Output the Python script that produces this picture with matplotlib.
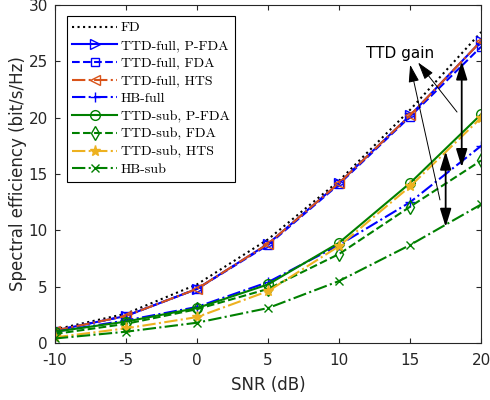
import matplotlib
matplotlib.use("Agg")
import matplotlib.pyplot as plt

plt.rcParams["axes.unicode_minus"] = False

snr = [-10, -5, 0, 5, 10, 15, 20]

fd = [1.2, 2.6, 5.2, 9.2, 14.4, 20.7, 27.6]
ttd_full_pfda = [1.1, 2.4, 4.8, 8.8, 14.2, 20.2, 26.8]
ttd_full_fda = [1.1, 2.4, 4.8, 8.7, 14.1, 20.1, 26.3]
ttd_full_hts = [1.1, 2.4, 4.8, 8.8, 14.2, 20.2, 26.8]
hb_full = [1.0, 2.0, 3.2, 5.4, 8.7, 12.5, 17.5]
ttd_sub_pfda = [1.0, 1.9, 3.1, 5.2, 8.9, 14.2, 20.3]
ttd_sub_fda = [0.8, 1.7, 3.0, 4.8, 7.9, 12.1, 16.2]
ttd_sub_hts = [0.5, 1.3, 2.3, 4.6, 8.6, 13.9, 20.0]
hb_sub = [0.4, 1.0, 1.8, 3.1, 5.5, 8.7, 12.3]

labels = ["FD", "TTD-full, P-FDA", "TTD-full, FDA", "TTD-full, HTS", "HB-full",
          "TTD-sub, P-FDA", "TTD-sub, FDA", "TTD-sub, HTS", "HB-sub"]

blue = (0, 0, 1)
orange = (0.85, 0.325, 0.098)
green = (0, 0.5, 0)
yellow = (0.929, 0.694, 0.125)

fig = plt.figure(figsize=(4.9, 4.0), dpi=100)
ax = fig.add_axes([0.112, 0.1425, 0.870, 0.845])

lw = 1.5
ax.plot(snr, fd, ":", color="black", lw=lw, label=labels[0])
ax.plot(snr, ttd_full_pfda, "-", color=blue, lw=lw, marker=">", ms=7, mfc="none", label=labels[1])
ax.plot(snr, ttd_full_fda, "--", color=blue, lw=lw, marker="s", ms=6, mfc="none", label=labels[2])
ax.plot(snr, ttd_full_hts, "-.", color=orange, lw=lw, marker="<", ms=7, mfc="none", label=labels[3])
ax.plot(snr, hb_full, "-.", color=blue, lw=lw, marker="+", ms=7, label=labels[4])
ax.plot(snr, ttd_sub_pfda, "-", color=green, lw=lw, marker="o", ms=7, mfc="none", label=labels[5])
ax.plot(snr, ttd_sub_fda, "--", color=green, lw=lw, marker="d", ms=7, mfc="none", label=labels[6])
ax.plot(snr, ttd_sub_hts, "-.", color=yellow, lw=lw, marker="*", ms=8, label=labels[7])
ax.plot(snr, hb_sub, "-.", color=green, lw=lw, marker="x", ms=6, label=labels[8])

# TTD gain annotations
arrow_big = dict(arrowstyle="<|-|>,head_length=0.55,head_width=0.17", color="black",
                 lw=1.3, mutation_scale=20, shrinkA=0, shrinkB=0)
ax.annotate("", xy=(18.63, 25.0), xytext=(18.63, 15.6), arrowprops=arrow_big)
ax.annotate("", xy=(17.5, 17.0), xytext=(17.5, 10.3), arrowprops=arrow_big)
arrow_thin = dict(arrowstyle="-|>,head_length=0.6,head_width=0.18", color="black",
                  lw=0.7, mutation_scale=18, shrinkA=0, shrinkB=0)
ax.annotate("", xy=(15.56, 24.9), xytext=(18.3, 20.5), arrowprops=arrow_thin)
ax.annotate("", xy=(15.0, 24.7), xytext=(17.1, 12.7), arrowprops=arrow_thin)
ax.text(14.3, 25.7, "TTD gain", fontsize=11, ha="center", va="center")

ax.set_xlim(-10, 20)
ax.set_ylim(0, 30)
ax.set_xticks(range(-10, 21, 5))
ax.set_yticks(range(0, 31, 5))
ax.tick_params(direction="in", top=True, right=True, labelsize=11, colors="0.15")
ax.tick_params(axis="x", pad=7)
ax.tick_params(axis="y", pad=5)
for s in ax.spines.values():
    s.set_color("0.15")
ax.set_xlabel("SNR (dB)", fontsize=12, color="0.15", labelpad=6)
ax.set_ylabel("Spectral efficiency (bit/s/Hz)", fontsize=12, color="0.15", labelpad=1)

leg = ax.legend(loc="upper left", bbox_to_anchor=(0.028, 0.967), fancybox=False,
                edgecolor="black", framealpha=1, handlelength=3.2, borderaxespad=0,
                prop={"family": "cmr10", "size": 10}, labelspacing=0.36,
                handletextpad=0.3, borderpad=0.4)
leg.get_frame().set_linewidth(0.8)

fig.savefig("out.png", dpi=100)
